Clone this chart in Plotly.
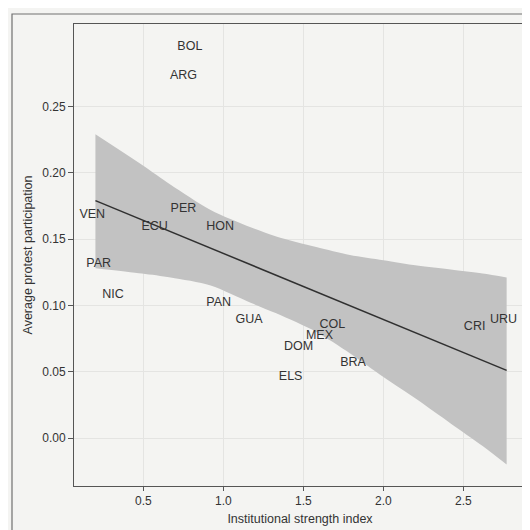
import plotly.graph_objects as go

# Country labels: institutional strength index (x) and average protest participation (y)
countries = ["BOL", "ARG", "PER", "VEN", "ECU", "HON", "PAR", "NIC", "PAN", "GUA",
             "COL", "MEX", "DOM", "BRA", "ELS", "CRI", "URU"]
inst_strength = [0.79, 0.75, 0.75, 0.18, 0.57, 0.98, 0.22, 0.31, 0.97, 1.16,
                 1.68, 1.60, 1.47, 1.81, 1.42, 2.57, 2.75]
protest = [0.295, 0.273, 0.173, 0.168, 0.159, 0.159, 0.131, 0.108, 0.102, 0.089,
           0.085, 0.077, 0.069, 0.057, 0.046, 0.084, 0.089]

# Fitted line and its confidence band
fit_x = [0.20, 2.77]
fit_y = [0.179, 0.051]
band_x = [0.20, 0.49, 0.67, 0.92, 1.17, 1.33, 1.58, 1.79, 2.00, 2.21, 2.42, 2.62, 2.77]
band_upper = [0.229, 0.206, 0.191, 0.172, 0.159, 0.152, 0.144, 0.138, 0.134, 0.130, 0.127, 0.124, 0.121]
band_lower = [0.128, 0.124, 0.121, 0.115, 0.102, 0.094, 0.080, 0.064, 0.046, 0.029, 0.011, -0.006, -0.020]

x_ticks = [0.5, 1.0, 1.5, 2.0, 2.5]
y_ticks = [0.00, 0.05, 0.10, 0.15, 0.20, 0.25]

FONT = "Liberation Sans, Arial, Helvetica, sans-serif"
BG = "#f4f4f2"
BAND = "#c2c2c2"

fig = go.Figure()
fig.add_trace(go.Scatter(
    x=band_x, y=band_lower, mode="lines",
    line=dict(width=0, color=BAND, shape="spline", smoothing=0.8),
    hoverinfo="skip", showlegend=False))
fig.add_trace(go.Scatter(
    x=band_x, y=band_upper, mode="lines", fill="tonexty", fillcolor=BAND,
    line=dict(width=0, color=BAND, shape="spline", smoothing=0.8),
    hoverinfo="skip", showlegend=False))
fig.add_trace(go.Scatter(
    x=fit_x, y=fit_y, mode="lines",
    line=dict(color="#303030", width=1.5), showlegend=False))
fig.add_trace(go.Scatter(
    x=inst_strength, y=protest, mode="text", text=countries,
    textposition="middle center",
    textfont=dict(family=FONT, size=12.5, color="#333333"), showlegend=False))

fig.update_layout(
    width=522, height=522,
    margin=dict(l=66, r=4, t=16, b=44),
    paper_bgcolor=BG, plot_bgcolor=BG,
    font=dict(family=FONT, size=12, color="#333333"),
    xaxis=dict(range=[0.066, 2.891], tickvals=x_ticks,
               ticktext=[f"{v:.1f}" for v in x_ticks],
               showgrid=True, gridcolor="#e4e4e2", gridwidth=1,
               zeroline=False, showline=True, linecolor="#555555", linewidth=1,
               mirror=True, ticks="outside", ticklen=4, tickcolor="#555555",
               tickfont=dict(size=12, color="#333333"),
               title=dict(text="Institutional strength index", standoff=6,
                          font=dict(size=12.5, color="#333333"))),
    yaxis=dict(range=[-0.0362, 0.3122], tickvals=y_ticks,
               ticktext=[f"{v:.2f}" for v in y_ticks],
               showgrid=True, gridcolor="#e4e4e2", gridwidth=1,
               zeroline=False, showline=True, linecolor="#555555", linewidth=1,
               mirror=True, ticks="outside", ticklen=5, tickcolor="#555555",
               tickfont=dict(size=12, color="#333333"),
               title=dict(text="Average protest participation", standoff=6,
                          font=dict(size=12.5, color="#333333"))),
    shapes=[dict(type="rect", xref="paper", yref="paper",
                 x0=(12 - 74) / 452, x1=(540 - 74) / 452,
                 y0=(486 - 545) / 462, y1=(486 - 14) / 462,
                 line=dict(color="#707070", width=1.2), layer="below")],
)

fig.write_html("out.html")
